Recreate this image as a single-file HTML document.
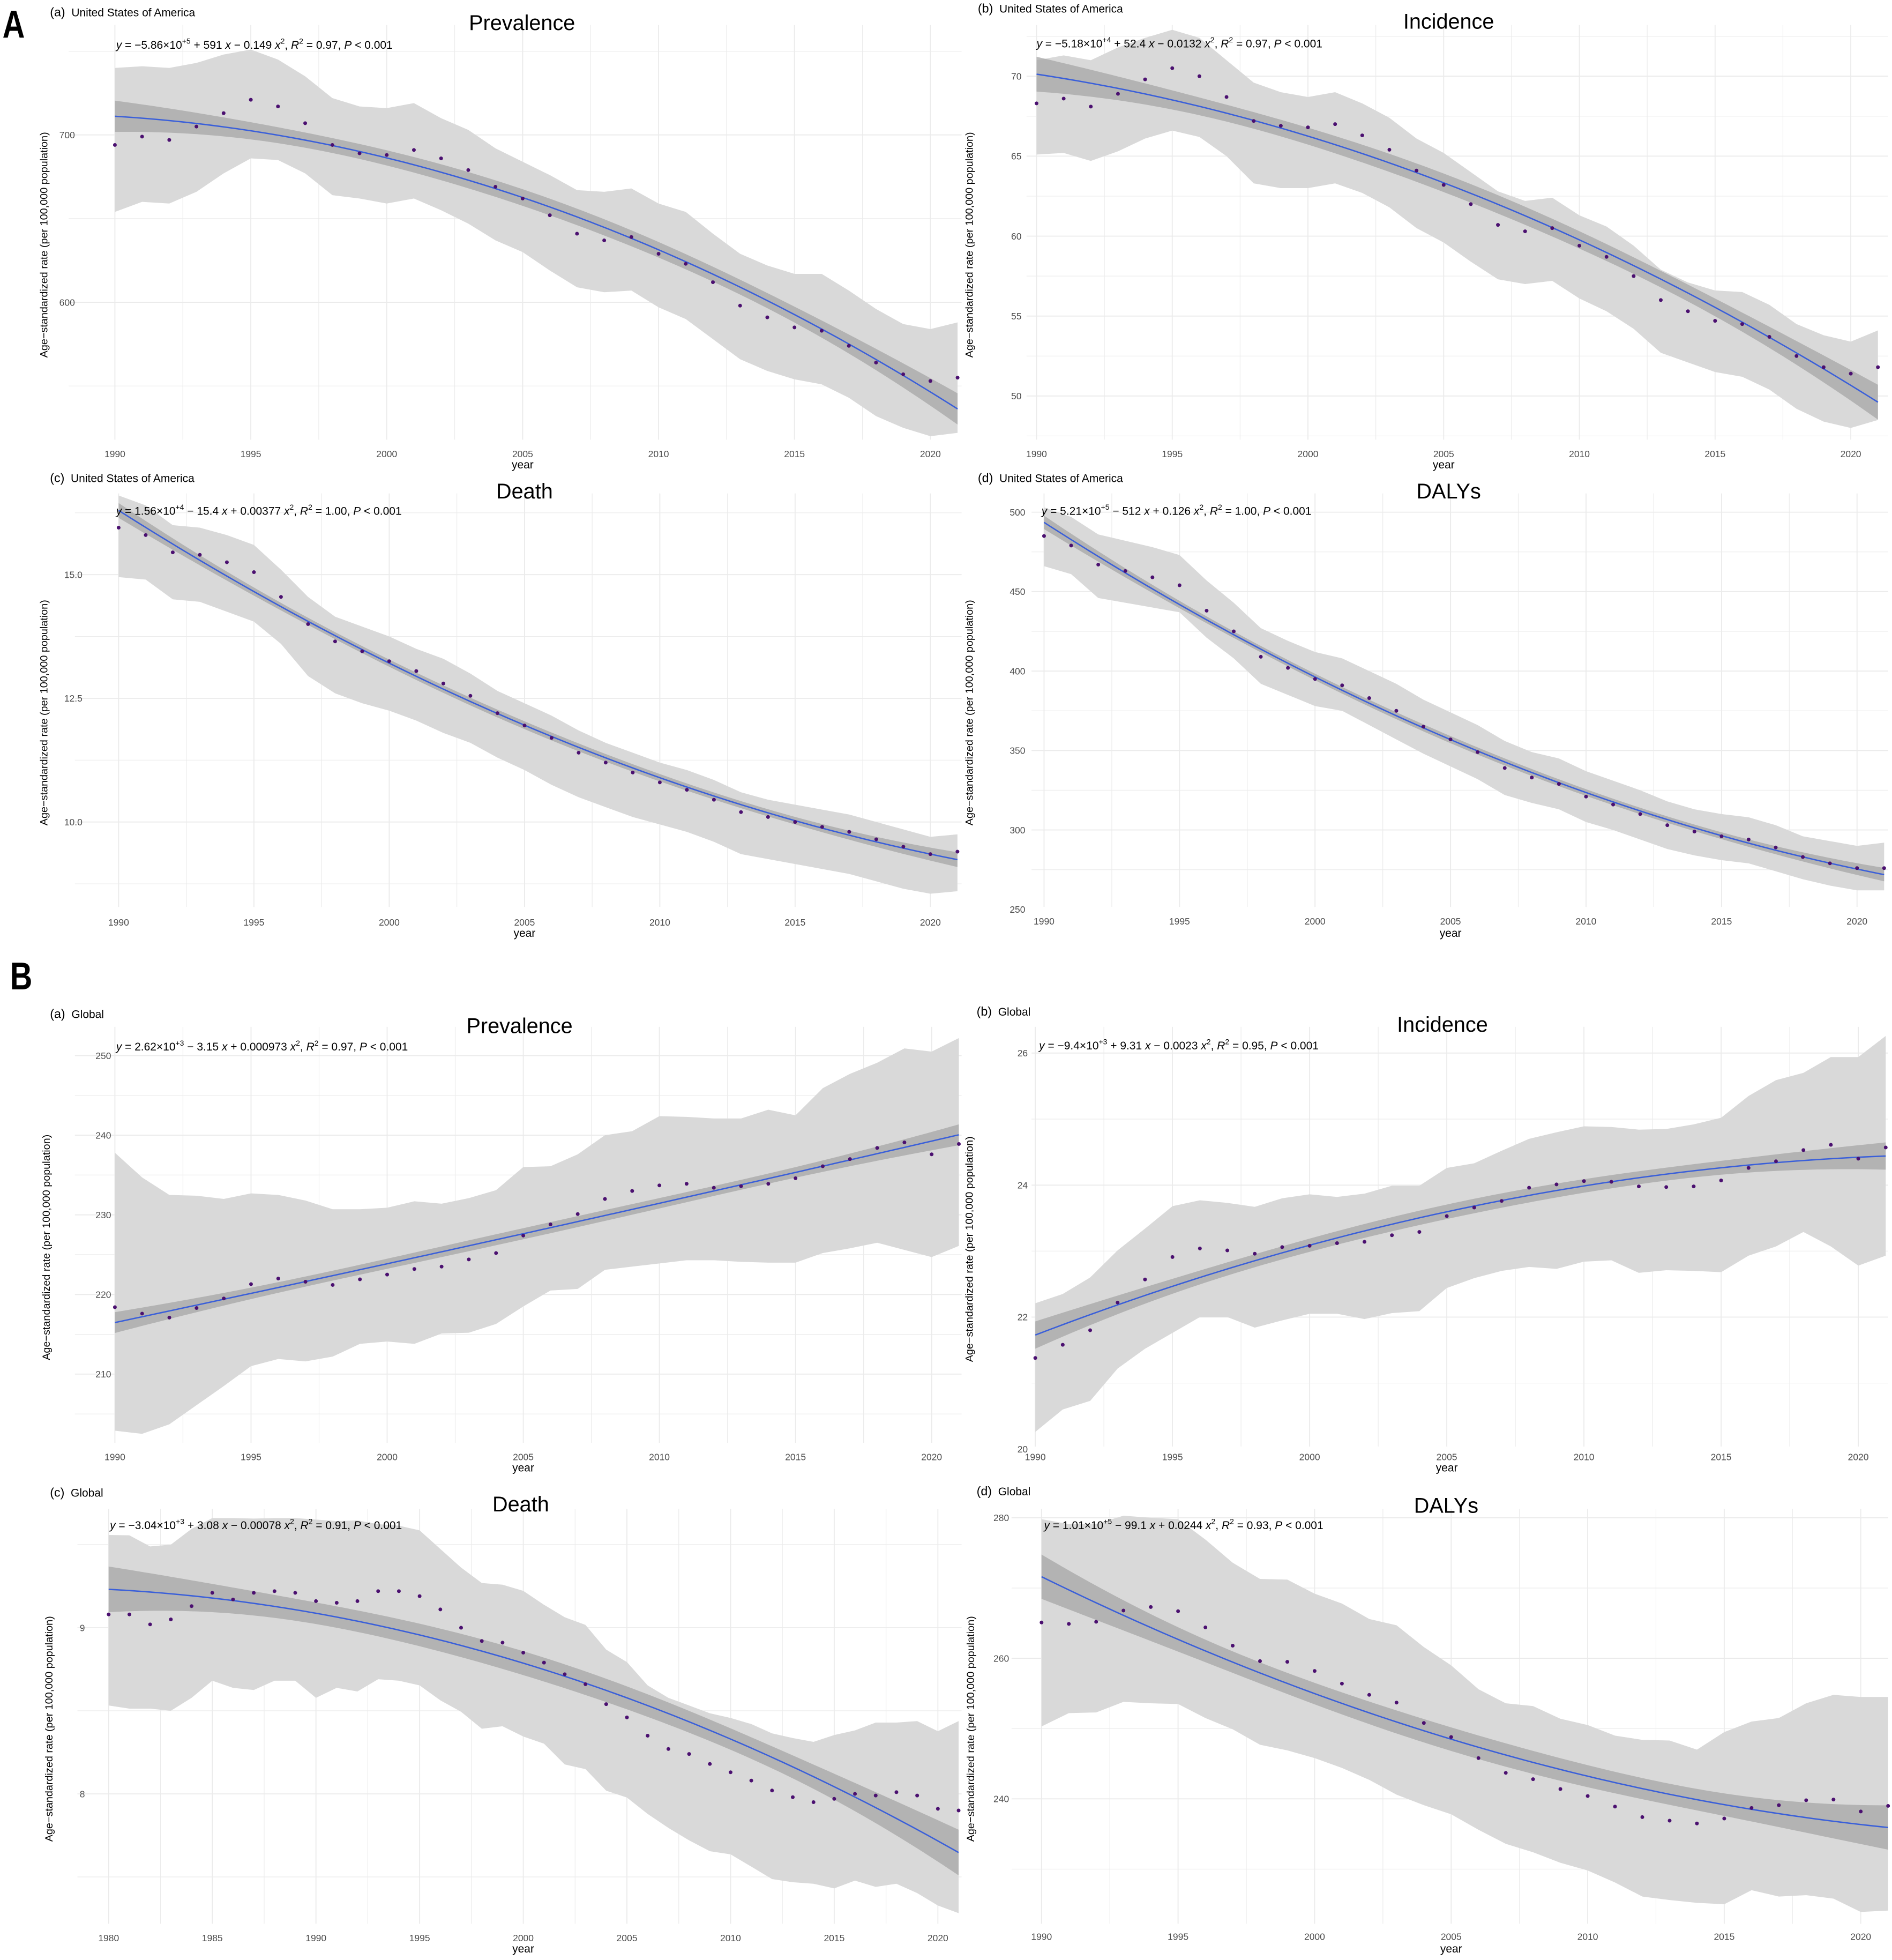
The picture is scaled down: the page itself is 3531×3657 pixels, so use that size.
<!DOCTYPE html>
<html><head><meta charset="utf-8"><style>
html,body{margin:0;padding:0;background:#fff}
svg{display:block}
text{font-family:"Liberation Sans",sans-serif}
</style></head><body>
<svg id="fig" xmlns="http://www.w3.org/2000/svg" width="3531" height="3657" viewBox="0 0 1515 1569" preserveAspectRatio="none">
<rect width="1515" height="1569" fill="#fff"/>
<g id="charts"></g>
<text x="2" y="30" font-size="31" font-weight="bold" transform="translate(2,30) scale(0.8,1) translate(-2,-30)">A</text>
<text x="8" y="792" font-size="31" font-weight="bold" transform="translate(8,792) scale(0.8,1) translate(-8,-792)">B</text>

<text x="40" y="13" font-size="10">(a)<tspan dx="5" font-size="9">United States of America</tspan></text>
<text x="418" y="24" font-size="17" text-anchor="middle">Prevalence</text>
<text x="93" y="39" font-size="9"><tspan font-style="italic">y</tspan> = −5.86×10<tspan dy="-4" font-size="6">+5</tspan><tspan dy="4"> + 591 </tspan><tspan font-style="italic">x</tspan> − 0.149 <tspan font-style="italic">x</tspan><tspan dy="-4" font-size="6">2</tspan><tspan dy="4">, </tspan><tspan font-style="italic">R</tspan><tspan dy="-4" font-size="6">2</tspan><tspan dy="4"> = 0.97, </tspan><tspan font-style="italic">P</tspan> &lt; 0.001</text>

<text x="783" y="10" font-size="10">(b)<tspan dx="5" font-size="9">United States of America</tspan></text>
<text x="1160" y="23" font-size="17" text-anchor="middle">Incidence</text>
<text x="830" y="38" font-size="9"><tspan font-style="italic">y</tspan> = −5.18×10<tspan dy="-4" font-size="6">+4</tspan><tspan dy="4"> + 52.4 </tspan><tspan font-style="italic">x</tspan> − 0.0132 <tspan font-style="italic">x</tspan><tspan dy="-4" font-size="6">2</tspan><tspan dy="4">, </tspan><tspan font-style="italic">R</tspan><tspan dy="-4" font-size="6">2</tspan><tspan dy="4"> = 0.97, </tspan><tspan font-style="italic">P</tspan> &lt; 0.001</text>

<text x="40" y="386" font-size="10">(c)<tspan dx="5" font-size="9">United States of America</tspan></text>
<text x="420" y="399" font-size="17" text-anchor="middle">Death</text>
<text x="93" y="412" font-size="9"><tspan font-style="italic">y</tspan> = 1.56×10<tspan dy="-4" font-size="6">+4</tspan><tspan dy="4"> − 15.4 </tspan><tspan font-style="italic">x</tspan> + 0.00377 <tspan font-style="italic">x</tspan><tspan dy="-4" font-size="6">2</tspan><tspan dy="4">, </tspan><tspan font-style="italic">R</tspan><tspan dy="-4" font-size="6">2</tspan><tspan dy="4"> = 1.00, </tspan><tspan font-style="italic">P</tspan> &lt; 0.001</text>

<text x="783" y="386" font-size="10">(d)<tspan dx="5" font-size="9">United States of America</tspan></text>
<text x="1160" y="399" font-size="17" text-anchor="middle">DALYs</text>
<text x="834" y="412" font-size="9"><tspan font-style="italic">y</tspan> = 5.21×10<tspan dy="-4" font-size="6">+5</tspan><tspan dy="4"> − 512 </tspan><tspan font-style="italic">x</tspan> + 0.126 <tspan font-style="italic">x</tspan><tspan dy="-4" font-size="6">2</tspan><tspan dy="4">, </tspan><tspan font-style="italic">R</tspan><tspan dy="-4" font-size="6">2</tspan><tspan dy="4"> = 1.00, </tspan><tspan font-style="italic">P</tspan> &lt; 0.001</text>

<text x="40" y="815" font-size="10">(a)<tspan dx="5" font-size="9">Global</tspan></text>
<text x="416" y="827" font-size="17" text-anchor="middle">Prevalence</text>
<text x="93" y="841" font-size="9"><tspan font-style="italic">y</tspan> = 2.62×10<tspan dy="-4" font-size="6">+3</tspan><tspan dy="4"> − 3.15 </tspan><tspan font-style="italic">x</tspan> + 0.000973 <tspan font-style="italic">x</tspan><tspan dy="-4" font-size="6">2</tspan><tspan dy="4">, </tspan><tspan font-style="italic">R</tspan><tspan dy="-4" font-size="6">2</tspan><tspan dy="4"> = 0.97, </tspan><tspan font-style="italic">P</tspan> &lt; 0.001</text>

<text x="782" y="813" font-size="10">(b)<tspan dx="5" font-size="9">Global</tspan></text>
<text x="1155" y="826" font-size="17" text-anchor="middle">Incidence</text>
<text x="832" y="840" font-size="9"><tspan font-style="italic">y</tspan> = −9.4×10<tspan dy="-4" font-size="6">+3</tspan><tspan dy="4"> + 9.31 </tspan><tspan font-style="italic">x</tspan> − 0.0023 <tspan font-style="italic">x</tspan><tspan dy="-4" font-size="6">2</tspan><tspan dy="4">, </tspan><tspan font-style="italic">R</tspan><tspan dy="-4" font-size="6">2</tspan><tspan dy="4"> = 0.95, </tspan><tspan font-style="italic">P</tspan> &lt; 0.001</text>

<text x="40" y="1198" font-size="10">(c)<tspan dx="5" font-size="9">Global</tspan></text>
<text x="417" y="1210" font-size="17" text-anchor="middle">Death</text>
<text x="88" y="1224" font-size="9"><tspan font-style="italic">y</tspan> = −3.04×10<tspan dy="-4" font-size="6">+3</tspan><tspan dy="4"> + 3.08 </tspan><tspan font-style="italic">x</tspan> − 0.00078 <tspan font-style="italic">x</tspan><tspan dy="-4" font-size="6">2</tspan><tspan dy="4">, </tspan><tspan font-style="italic">R</tspan><tspan dy="-4" font-size="6">2</tspan><tspan dy="4"> = 0.91, </tspan><tspan font-style="italic">P</tspan> &lt; 0.001</text>

<text x="782" y="1197" font-size="10">(d)<tspan dx="5" font-size="9">Global</tspan></text>
<text x="1158" y="1211" font-size="17" text-anchor="middle">DALYs</text>
<text x="836" y="1224" font-size="9"><tspan font-style="italic">y</tspan> = 1.01×10<tspan dy="-4" font-size="6">+5</tspan><tspan dy="4"> − 99.1 </tspan><tspan font-style="italic">x</tspan> + 0.0244 <tspan font-style="italic">x</tspan><tspan dy="-4" font-size="6">2</tspan><tspan dy="4">, </tspan><tspan font-style="italic">R</tspan><tspan dy="-4" font-size="6">2</tspan><tspan dy="4"> = 0.93, </tspan><tspan font-style="italic">P</tspan> &lt; 0.001</text>
</svg>
<script>
// ===== data (year-indexed, starting at first year) =====
const usaPrevVals=[694,699,697,705,713,721,717,707,694,689,688,691,686,679,669,662,652,641,637,639,629,623,612,598,591,585,583,574,564,557,553,555];
const usaPrevUp=[740,741,740,743,748,751,745,735,722,717,716,719,710,703,692,684,676,667,666,668,659,654,641,629,622,617,617,607,596,587,584,588];
const usaPrevLo=[654,660,659,666,677,686,685,677,664,662,659,662,655,647,637,630,619,609,606,607,597,590,578,566,559,554,551,543,532,525,520,522];

const usaIncVals=[68.3,68.6,68.1,68.9,69.8,70.5,70.0,68.7,67.2,66.9,66.8,67.0,66.3,65.4,64.1,63.2,62.0,60.7,60.3,60.5,59.4,58.7,57.5,56.0,55.3,54.7,54.5,53.7,52.5,51.8,51.4,51.8];
const usaIncUp=[71.0,71.3,71.0,71.8,72.4,72.9,72.4,71.0,69.6,69.0,68.7,69.0,68.3,67.4,66.1,65.2,64.0,62.8,62.2,62.4,61.3,60.6,59.4,57.9,57.1,56.6,56.5,55.7,54.5,53.8,53.4,54.1];
const usaIncLo=[65.1,65.2,64.7,65.3,66.1,66.6,66.2,65.0,63.3,63.0,63.0,63.3,62.7,61.8,60.5,59.6,58.4,57.3,57.0,57.2,56.1,55.3,54.2,52.7,52.1,51.5,51.2,50.4,49.2,48.4,48.0,48.5];

const usaDeathVals=[15.95,15.8,15.45,15.4,15.25,15.05,14.55,14.0,13.65,13.45,13.25,13.05,12.8,12.55,12.2,11.95,11.7,11.4,11.2,11.0,10.8,10.65,10.45,10.2,10.1,10.0,9.9,9.8,9.65,9.5,9.35,9.4];
const usaDeathUp=[16.6,16.4,16.0,15.95,15.8,15.6,15.1,14.55,14.15,13.95,13.75,13.5,13.3,13.0,12.65,12.4,12.15,11.85,11.6,11.4,11.2,11.05,10.85,10.6,10.45,10.35,10.25,10.15,10.0,9.85,9.7,9.75];
const usaDeathLo=[14.95,14.9,14.5,14.45,14.25,14.05,13.6,12.95,12.6,12.4,12.25,12.05,11.8,11.6,11.3,11.05,10.75,10.5,10.3,10.1,9.95,9.8,9.6,9.35,9.25,9.15,9.05,8.95,8.8,8.65,8.55,8.6];

const usaDalyVals=[485,479,467,463,459,454,438,425,409,402,395,391,383,375,365,357,349,339,333,329,321,316,310,303,299,296,294,289,283,279,276,276];
const usaDalyUp=[503,497,486,482,478,473,457,443,427,419,412,408,400,392,382,374,366,356,349,345,337,331,325,318,313,310,308,303,296,293,290,292];
const usaDalyLo=[466,461,446,443,440,437,421,408,392,385,378,375,366,357,348,340,332,322,317,313,305,300,294,288,284,281,279,274,269,265,262,262];

const gloPrevVals=[218.4,217.6,217.1,218.3,219.5,221.3,222.0,221.6,221.2,221.9,222.5,223.2,223.5,224.4,225.2,227.4,228.8,230.1,232.0,233.0,233.7,233.9,233.4,233.6,233.9,234.6,236.1,237.0,238.4,239.1,237.6,238.9];
const gloPrevUp=[237.8,234.7,232.5,232.4,232.0,232.7,232.5,231.8,230.7,230.7,230.9,231.7,231.4,232.1,233.1,236.0,236.1,237.6,240.0,240.5,242.4,242.3,242.1,242.1,243.2,242.5,245.9,247.7,249.1,250.9,250.5,252.2];
const gloPrevLo=[202.9,202.5,203.7,206.1,208.5,211.0,211.9,211.6,212.2,213.8,214.1,213.8,215.1,215.2,216.3,218.5,220.5,220.7,223.1,223.5,223.9,224.3,224.3,224.1,224.0,224.0,225.2,225.8,226.5,225.6,224.7,226.1];

const gloIncVals=[21.38,21.58,21.80,22.22,22.57,22.91,23.04,23.01,22.96,23.06,23.08,23.12,23.14,23.24,23.29,23.53,23.66,23.76,23.96,24.01,24.06,24.05,23.98,23.97,23.98,24.07,24.26,24.36,24.53,24.61,24.40,24.57];
const gloIncUp=[22.21,22.35,22.60,23.01,23.34,23.68,23.77,23.73,23.67,23.80,23.86,23.82,23.87,23.99,23.99,24.26,24.33,24.52,24.70,24.80,24.89,24.88,24.84,24.85,24.92,25.02,25.35,25.59,25.70,25.94,25.94,26.26];
const gloIncLo=[20.26,20.60,20.73,21.22,21.52,21.76,22.00,22.00,21.84,21.95,22.05,22.05,21.97,22.06,22.09,22.44,22.59,22.70,22.76,22.73,22.84,22.86,22.67,22.71,22.70,22.68,22.93,23.07,23.29,23.07,22.78,22.93];

const gloDeathVals=[9.08,9.08,9.02,9.05,9.13,9.21,9.17,9.21,9.22,9.21,9.16,9.15,9.16,9.22,9.22,9.19,9.11,9.00,8.92,8.91,8.85,8.79,8.72,8.66,8.54,8.46,8.35,8.27,8.24,8.18,8.13,8.08,8.02,7.98,7.95,7.97,8.00,7.99,8.01,7.99,7.91,7.90];
const gloDeathUp=[9.558,9.556,9.489,9.500,9.595,9.660,9.660,9.657,9.660,9.660,9.651,9.642,9.646,9.623,9.614,9.586,9.474,9.362,9.269,9.259,9.222,9.138,9.063,9.017,8.868,8.793,8.653,8.578,8.532,8.485,8.457,8.420,8.364,8.336,8.313,8.354,8.382,8.429,8.429,8.438,8.377,8.438];
const gloDeathLo=[8.532,8.513,8.513,8.500,8.578,8.681,8.638,8.625,8.681,8.681,8.578,8.638,8.616,8.690,8.681,8.653,8.563,8.494,8.392,8.407,8.345,8.302,8.177,8.149,8.019,7.978,7.879,7.795,7.720,7.655,7.636,7.562,7.487,7.468,7.459,7.431,7.478,7.440,7.459,7.403,7.328,7.282];

const gloDalyVals=[265.1,264.9,265.2,266.8,267.3,266.7,264.4,261.8,259.6,259.5,258.2,256.4,254.8,253.7,250.8,248.8,245.8,243.7,242.8,241.4,240.4,238.9,237.4,236.9,236.5,237.2,238.7,239.1,239.8,239.9,238.2,239.0];
const gloDalyUp=[279.8,279.1,279.1,280.3,280.0,279.8,276.9,273.6,271.3,271.2,269.2,267.8,265.6,264.7,261.6,259.0,255.6,253.6,253.2,251.4,250.5,249.0,248.4,248.3,247.0,249.5,251.0,251.5,253.6,254.8,254.5,254.5];
const gloDalyLo=[250.3,252.2,252.3,253.8,253.6,253.5,251.5,249.9,247.7,246.9,245.8,244.4,242.7,240.6,239.1,237.8,235.6,233.6,232.4,230.9,229.8,228.1,226.1,225.6,225.2,225.0,227.0,226.1,226.3,225.8,223.9,224.1];

const yearTicks9020=[1990,1995,2000,2005,2010,2015,2020];
const yearTicks8020=[1980,1985,1990,1995,2000,2005,2010,2015,2020];
const usaPrevTicks=[600,700], usaIncTicks=[50,55,60,65,70], usaDeathTicks=[10.0,12.5,15.0], usaDalyTicks=[250,300,350,400,450,500];
const gloPrevTicks=[210,220,230,240,250], gloIncTicks=[20,22,24,26], gloDeathTicks=[8,9], gloDalyTicks=[240,260,280];

// ===== layout (positions only) =====
const panels=[
 {id:'aa',start:1990,vals:usaPrevVals,up:usaPrevUp,lo:usaPrevLo,ticks:usaPrevTicks,xt:yearTicks9020,dec:0,
  box:[55,20,770,352],xa:[1990,92,2020,745],ya:[700,108,600,242],tickR:60,xLabY:366,yearY:375,ytX:38},
 {id:'ab',start:1990,vals:usaIncVals,up:usaIncUp,lo:usaIncLo,ticks:usaIncTicks,xt:yearTicks9020,dec:0,
  box:[822,20,1512,352],xa:[1990,830,2020,1482],ya:[70,61,50,317],tickR:818,xLabY:366,yearY:375,ytX:779},
 {id:'ac',start:1990,vals:usaDeathVals,up:usaDeathUp,lo:usaDeathLo,ticks:usaDeathTicks,xt:yearTicks9020,dec:1,
  box:[60,395,770,726],xa:[1990,95,2020,745],ya:[15,460,10,658],tickR:66,xLabY:741,yearY:750,ytX:38},
 {id:'ad',start:1990,vals:usaDalyVals,up:usaDalyUp,lo:usaDalyLo,ticks:usaDalyTicks,xt:yearTicks9020,dec:0,
  box:[826,395,1512,726],xa:[1990,836,2020,1487],ya:[500,410,250,728],tickR:821,xLabY:740,yearY:750,ytX:779},
 {id:'ba',start:1990,vals:gloPrevVals,up:gloPrevUp,lo:gloPrevLo,ticks:gloPrevTicks,xt:yearTicks9020,dec:0,
  box:[60,822,770,1155],xa:[1990,92,2020,746],ya:[250,845,210,1100],tickR:89,xLabY:1169,yearY:1178,ytX:40},
 {id:'bb',start:1990,vals:gloIncVals,up:gloIncUp,lo:gloIncLo,ticks:gloIncTicks,xt:yearTicks9020,dec:0,
  box:[826,822,1512,1158],xa:[1990,829,2020,1488],ya:[26,843,20,1160],tickR:823,xLabY:1169,yearY:1178,ytX:779},
 {id:'bc',start:1980,vals:gloDeathVals,up:gloDeathUp,lo:gloDeathLo,ticks:gloDeathTicks,xt:yearTicks8020,dec:0,
  box:[62,1208,770,1540],xa:[1980,87,2020,751],ya:[9,1303,8,1436],tickR:68,xLabY:1554,yearY:1563,ytX:42},
 {id:'bd',start:1990,vals:gloDalyVals,up:gloDalyUp,lo:gloDalyLo,ticks:gloDalyTicks,xt:yearTicks9020,dec:0,
  box:[810,1208,1512,1540],xa:[1990,834,2020,1490],ya:[280,1215,240,1440],tickR:808,xLabY:1553,yearY:1563,ytX:780}
];

const NS='http://www.w3.org/2000/svg';
const root=document.getElementById('charts');
function mk(tag,attrs,parent){const e=document.createElementNS(NS,tag);for(const k in attrs)e.setAttribute(k,attrs[k]);(parent||root).appendChild(e);return e;}

function solve3(A,b){A=A.map((r,i)=>r.concat([b[i]]));for(let i=0;i<3;i++){let p=i;for(let j=i+1;j<3;j++)if(Math.abs(A[j][i])>Math.abs(A[p][i]))p=j;[A[i],A[p]]=[A[p],A[i]];for(let j=0;j<3;j++){if(j===i)continue;const f=A[j][i]/A[i][i];for(let k=i;k<4;k++)A[j][k]-=f*A[i][k];}}return A.map((r,i)=>r[3]/r[i]);}
function inv3(M){const c=[];for(let i=0;i<3;i++){const e=[0,0,0];e[i]=1;c.push(solve3(M.map(r=>r.slice()),e));}return [[c[0][0],c[1][0],c[2][0]],[c[0][1],c[1][1],c[2][1]],[c[0][2],c[1][2],c[2][2]]];}

panels.forEach(p=>{
  const g=mk('g',{});
  
  
  const [l,t,r,b]=p.box;
  const sx=(p.xa[3]-p.xa[1])/(p.xa[2]-p.xa[0]);
  const X=yr=>p.xa[1]+(yr-p.xa[0])*sx;
  const sy=(p.ya[3]-p.ya[1])/(p.ya[2]-p.ya[0]);
  const Y=v=>p.ya[1]+(v-p.ya[0])*sy;
  const n=p.vals.length, years=p.vals.map((_,i)=>p.start+i);
  const tstep=p.ticks.length>1?p.ticks[1]-p.ticks[0]:1;
  for(let v=p.ticks[0]-tstep*3;v<=p.ticks[p.ticks.length-1]+tstep*3;v+=tstep/2){
    const y=Y(v); if(y<t||y>b)continue;
    const gl=mk('line',{x1:l,x2:r,y1:y,y2:y,stroke:'#ebebeb','stroke-width':Math.abs((v-p.ticks[0])/tstep%1)<1e-6?0.8:0.5},g);
    
    
  }
  for(let yr=p.xt[0]-5;yr<=p.xt[p.xt.length-1]+5;yr+=2.5){
    const x=X(yr); if(x<l||x>r)continue;
    const gl=mk('line',{x1:x,x2:x,y1:t,y2:b,stroke:'#ebebeb','stroke-width':yr%5===0?0.8:0.5},g);
    
    
  }
  let d='M'+years.map((yr,i)=>X(yr)+','+Y(p.up[i])).join('L')+'L'+years.slice().reverse().map((yr,j)=>X(yr)+','+Y(p.lo[n-1-j])).join('L')+'Z';
  const ob=mk('path',{d:d,fill:'#d9d9d9'},g);
  
  
  const xs=years.map(yr=>yr-2005);
  const S=[[0,0,0],[0,0,0],[0,0,0]],bv=[0,0,0];
  xs.forEach((x,i)=>{const v=[1,x,x*x];for(let a=0;a<3;a++){bv[a]+=v[a]*p.vals[i];for(let c=0;c<3;c++)S[a][c]+=v[a]*v[c];}});
  const coef=solve3(S.map(r=>r.slice()),bv.slice());
  const f=x=>coef[0]+coef[1]*x+coef[2]*x*x;
  let sse=0;xs.forEach((x,i)=>{sse+=(p.vals[i]-f(x))**2;});
  const s2=sse/(n-3), Si=inv3(S);
  const se=x=>{const v=[1,x,x*x];let q=0;for(let a=0;a<3;a++)for(let c=0;c<3;c++)q+=v[a]*Si[a][c]*v[c];return Math.sqrt(Math.max(0,s2*q));};
  const fx=[];for(let yr=years[0];yr<=years[n-1]+1e-9;yr+=0.25)fx.push(yr);
  d='M'+fx.map(yr=>X(yr)+','+Y(f(yr-2005)+2.04*se(yr-2005))).join('L')+'L'+fx.slice().reverse().map(yr=>X(yr)+','+Y(f(yr-2005)-2.04*se(yr-2005))).join('L')+'Z';
  const ib=mk('path',{d:d,fill:'#a6a6a6','fill-opacity':0.75},g);
  
  
  const fl=mk('path',{d:'M'+fx.map(yr=>X(yr)+','+Y(f(yr-2005))).join('L'),fill:'none',stroke:'#3a5fd9','stroke-width':1.1},g);
  
  
  years.forEach((yr,i)=>{
    const c=mk('circle',{cx:X(yr),cy:Y(p.vals[i]),r:1.5,fill:'#4b1070'},g);
    
    
  });
  p.ticks.forEach(v=>{
    const tx=mk('text',{x:p.tickR,y:Y(v)+2.7,'font-size':7.5,fill:'#4d4d4d','text-anchor':'end'},g);
    tx.textContent=v.toFixed(p.dec);
    
    
  });
  p.xt.forEach(yr=>{
    const tx=mk('text',{x:X(yr),y:p.xLabY,'font-size':7.5,fill:'#4d4d4d','text-anchor':'middle'},g);
    tx.textContent=yr;
    
    
  });
  const xt=mk('text',{x:(X(p.xt[0])+X(p.xt[p.xt.length-1]))/2,y:p.yearY,'font-size':9,'text-anchor':'middle'},g);
  xt.textContent='year';
  
  
  const cy=(t+b)/2+10;
  const yt=mk('text',{x:p.ytX,y:cy,'font-size':8.5,'text-anchor':'middle',transform:'rotate(-90 '+p.ytX+' '+cy+')'},g);
  yt.textContent='Age−standardized rate (per 100,000 population)';
  
  
});
</script>
</body></html>
